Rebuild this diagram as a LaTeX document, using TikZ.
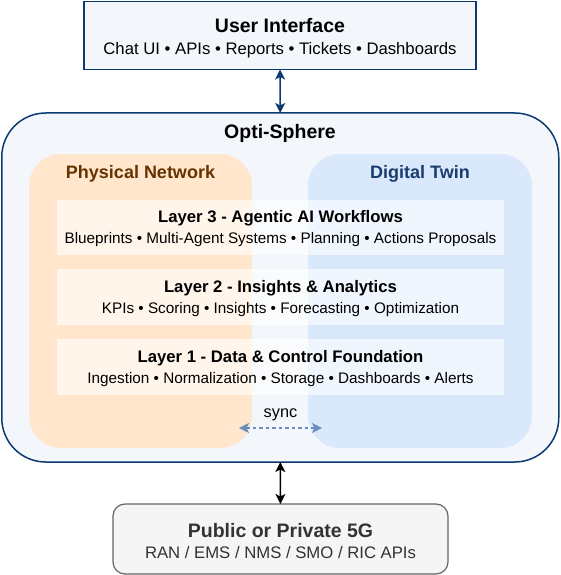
\documentclass[tikz,border=0pt]{standalone}
\usepackage{fontspec}
\setmainfont{Liberation Sans}
\usetikzlibrary{arrows.meta}
\definecolor{navy}{HTML}{0B3A6E}
\definecolor{outerfill}{HTML}{F3F7FC}
\definecolor{orangefill}{HTML}{FFE6CC}
\definecolor{bluefill}{HTML}{DAE8FC}
\definecolor{browntxt}{HTML}{663300}
\definecolor{bluetxt}{HTML}{1A3D6D}
\definecolor{syncblue}{HTML}{6C8EBF}
\definecolor{gfill}{HTML}{F5F5F5}
\definecolor{gline}{HTML}{666666}
\definecolor{gtxt}{HTML}{333333}
\tikzset{
  box/.style={draw, rectangle, inner sep=0pt, outer sep=0pt},
  layerbox/.style={rectangle, fill=white, fill opacity=0.62, inner sep=0pt, outer sep=0pt},
  txt/.style={anchor=base, inner sep=0pt, outer sep=0pt},
  bigtitle/.style={txt, font=\fontsize{19.5}{22}\selectfont\bfseries},
  subtxt/.style={txt, font=\fontsize{16.7}{19}\selectfont},
  laytitle/.style={txt, font=\fontsize{16.7}{19}\selectfont\bfseries},
  laysub/.style={txt, font=\fontsize{15.3}{18}\selectfont},
  arr/.style={line width=1.6pt, {Stealth[length=10pt,width=10pt,inset=2.5pt]}-{Stealth[length=10pt,width=10pt,inset=2.5pt]}}
}
\begin{document}
\begin{tikzpicture}[x=1pt,y=-1pt]
\useasboundingbox (0,0) rectangle (561,575);
% User interface
\node[box, draw=navy, line width=1.5pt, fill=outerfill, minimum width=392pt, minimum height=68pt] (ui) at (280,35.5) {};
\node[bigtitle] (uit) at (280,32.3) {User Interface};
\node[subtxt] (uis) at (280,55) {Chat UI • APIs • Reports • Tickets • Dashboards};
% Opti-Sphere
\node[box, draw=navy, line width=1.5pt, fill=outerfill, rounded corners=44pt, minimum width=557pt, minimum height=349pt] (opti) at (280.25,287.5) {};
\node[bigtitle] (optit) at (280,138.5) {Opti-Sphere};
% panels
\node[rectangle, fill=orangefill, rounded corners=32pt, minimum width=223pt, minimum height=294pt, inner sep=0pt] (phys) at (140.5,301) {};
\node[rectangle, fill=bluefill, rounded corners=32pt, minimum width=224pt, minimum height=294pt, inner sep=0pt] (twin) at (420,301) {};
\node[txt, font=\fontsize{18}{21}\selectfont\bfseries, text=browntxt] (physt) at (140.5,178.5) {Physical Network};
\node[txt, font=\fontsize{18}{21}\selectfont\bfseries, text=bluetxt] (twint) at (420,178.5) {Digital Twin};
% layers
\node[layerbox, minimum width=447pt, minimum height=55pt] (l3) at (280.5,227.5) {};
\node[layerbox, minimum width=447pt, minimum height=56pt] (l2) at (280.5,297) {};
\node[layerbox, minimum width=447pt, minimum height=56pt] (l1) at (280.5,367) {};
\node[laytitle] (l3t) at (280.5,222.7) {Layer 3 - Agentic AI Workflows};
\node[laysub] (l3s) at (280.5,243.5) {Blueprints • Multi-Agent Systems • Planning • Actions Proposals};
\node[laytitle] (l2t) at (280.5,292.7) {Layer 2 - Insights \& Analytics};
\node[laysub] (l2s) at (280.5,313.5) {KPIs • Scoring • Insights • Forecasting • Optimization};
\node[laytitle] (l1t) at (280.5,362.7) {Layer 1 - Data \& Control Foundation};
\node[laysub] (l1s) at (280.5,383.5) {Ingestion • Normalization • Storage • Dashboards • Alerts};
% sync
\node[txt, font=\fontsize{16.3}{19}\selectfont] (sync) at (280.5,417.8) {sync};
\coordinate (syncL) at (239,428);
\coordinate (syncR) at (322,428);
\draw[syncblue, line width=1.2pt, dash pattern=on 3.5pt off 3pt, {Stealth[length=10pt,width=10pt,inset=2.5pt]}-{Stealth[length=10pt,width=10pt,inset=2.5pt]}] (syncL) -- (syncR);
% 5G
\node[box, draw=gline, line width=1.2pt, fill=gfill, rounded corners=12pt, minimum width=335pt, minimum height=70pt] (g5) at (280.5,539) {};
\node[bigtitle, text=gtxt] (g5t) at (280.5,537) {Public or Private 5G};
\node[subtxt, text=gtxt] (g5s) at (280.5,558.5) {RAN / EMS / NMS / SMO / RIC APIs};
% connectors
\draw[arr, navy] (ui.south) -- (opti.north);
\draw[arr, black] (opti.south) -- (g5.north);
\end{tikzpicture}
\end{document}
